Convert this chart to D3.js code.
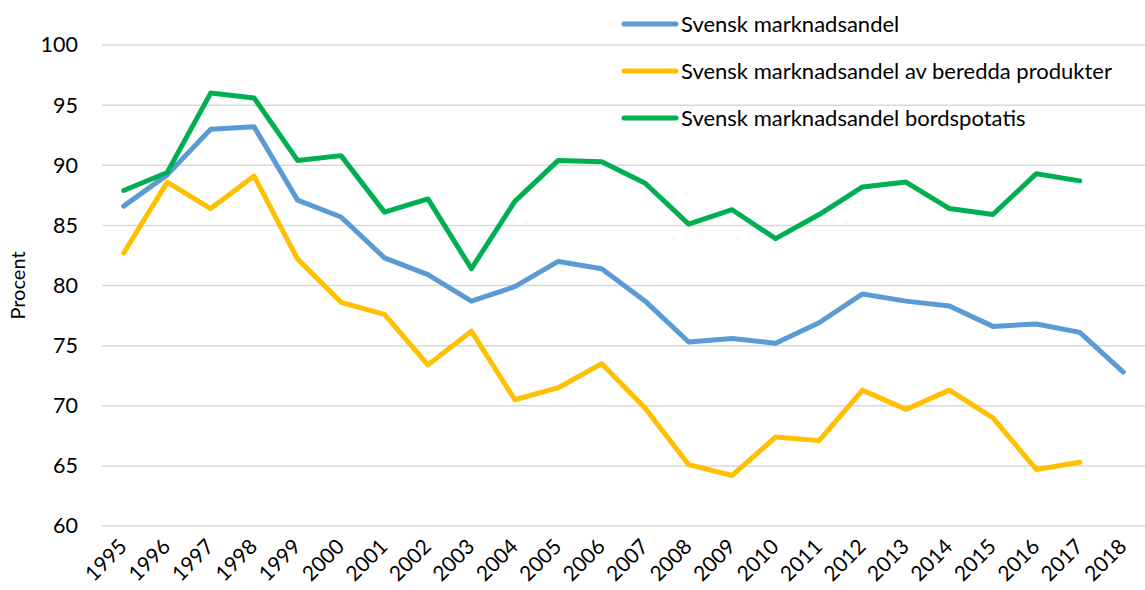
<!DOCTYPE html>
<html>
<head>
<meta charset="utf-8">
<script src="https://cdn.jsdelivr.net/npm/d3@7"></script>
<style>
  body { margin: 0; background: #fff; }
  text { font-family: Lato, "Open Sans", sans-serif; fill: #000; }
</style>
</head>
<body>
<div id="chart"></div>
<script>
// data
var years = ["1995","1996","1997","1998","1999","2000","2001","2002","2003","2004","2005","2006",
  "2007","2008","2009","2010","2011","2012","2013","2014","2015","2016","2017","2018"];
var total = [86.6, 89.2, 93.0, 93.2, 87.1, 85.7, 82.3, 80.9, 78.7, 79.9, 82.0, 81.4,
  78.7, 75.3, 75.6, 75.2, 76.9, 79.3, 78.7, 78.3, 76.6, 76.8, 76.1, 72.8];
var prepared = [82.7, 88.6, 86.4, 89.1, 82.2, 78.6, 77.6, 73.4, 76.2, 70.5, 71.5, 73.5,
  69.8, 65.1, 64.2, 67.4, 67.1, 71.3, 69.7, 71.3, 69.0, 64.7, 65.3];
var table = [87.9, 89.4, 96.0, 95.6, 90.4, 90.8, 86.1, 87.2, 81.4, 87.0, 90.4, 90.3,
  88.5, 85.1, 86.3, 83.9, 85.9, 88.2, 88.6, 86.4, 85.9, 89.3, 88.7];
var yTicks = [60, 65, 70, 75, 80, 85, 90, 95, 100];
var seriesNames = ["Svensk marknadsandel", "Svensk marknadsandel av beredda produkter",
  "Svensk marknadsandel bordspotatis"];
var colors = ["#5B9BD5", "#FFC000", "#00B050"];

var svgWidth = 1145, svgHeight = 590;
var margin = {top: 45, right: 0, bottom: 64, left: 102};
var width = svgWidth - margin.left - margin.right;
var height = svgHeight - margin.top - margin.bottom;
var fontSize = "21px";

var svg = d3.select("#chart").append("svg")
  .attr("width", svgWidth)
  .attr("height", svgHeight);

var chartGroup = svg.append("g")
  .attr("transform", `translate(${margin.left}, ${margin.top})`);

var x = d3.scalePoint().domain(years).range([0, width]).padding(0.5);
var y = d3.scaleLinear().domain([60, 100]).range([height, 0]);

// gridlines
chartGroup.append("g")
  .selectAll("line")
  .data(yTicks)
  .enter()
  .append("line")
  .attr("x1", 0)
  .attr("x2", width)
  .attr("y1", d => y(d))
  .attr("y2", d => y(d))
  .attr("stroke", "#d9d9d9")
  .attr("stroke-width", 1.5);

// y axis labels
var leftAxis = d3.axisLeft(y).tickValues(yTicks).tickSize(0).tickPadding(24);
chartGroup.append("g")
  .call(leftAxis)
  .call(g => g.select(".domain").remove())
  .selectAll("text")
  .style("font-size", "21.5px");

// x axis labels
var bottomAxis = d3.axisBottom(x).tickSize(0);
chartGroup.append("g")
  .attr("transform", `translate(0, ${height})`)
  .call(bottomAxis)
  .call(g => g.select(".domain").remove())
  .selectAll("text")
  .style("font-size", fontSize)
  .attr("text-anchor", "end")
  .attr("dy", null)
  .attr("y", 0)
  .attr("transform", `translate(4, 22) rotate(-45)`);

// y title
svg.append("text")
  .attr("transform", `translate(25, ${margin.top + height / 2}) rotate(-90)`)
  .attr("text-anchor", "middle")
  .style("font-size", "20px")
  .text("Procent");

// lines
var allSeries = [total, prepared, table];
var line = d3.line()
  .x((d, i) => x(years[i]))
  .y(d => y(d));

chartGroup.selectAll(".series")
  .data(allSeries)
  .enter()
  .append("path")
  .attr("class", "series")
  .attr("d", d => line(d))
  .attr("fill", "none")
  .attr("stroke", (d, i) => colors[i])
  .attr("stroke-width", 5)
  .attr("stroke-linejoin", "round")
  .attr("stroke-linecap", "round");

// legend
var legend = svg.append("g")
  .selectAll("g")
  .data(seriesNames)
  .enter()
  .append("g")
  .attr("transform", (d, i) => `translate(624, ${24 + i * 47})`);

legend.append("line")
  .attr("x1", 0).attr("x2", 52)
  .attr("stroke", (d, i) => colors[i])
  .attr("stroke-width", 5)
  .attr("stroke-linecap", "round");

legend.append("text")
  .attr("x", 57)
  .attr("dy", "0.35em")
  .style("font-size", "22px")
  .text(d => d);
</script>
</body>
</html>
